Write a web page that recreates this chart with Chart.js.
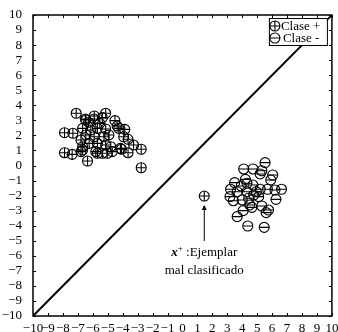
<!DOCTYPE html>
<html>
<head>
<meta charset="utf-8">
<script src="https://cdn.jsdelivr.net/npm/chart.js@4/dist/chart.umd.min.js"></script>
<style>
    body { margin: 0; background: #fff; }
</style>
</head>
<body>
<canvas id="chart" width="338" height="332"></canvas>
<script>
// clase + (el ultimo es el ejemplar mal clasificado)
const posX = [-7.11, -5.14, -5.90, -6.46, -4.52, -4.37, -3.86, -7.89, -3.64, -3.27, -2.76, -4.08, -3.64, -7.89, -7.38, -6.35, -2.76, -5.69, -5.03, -6.68,
    -6.50, -5.91, -6.28, -5.36, -5.53, -6.68, -6.13, -5.69, -5.14, -6.46, -5.91, -5.25, -4.92, -6.79, -6.24, -5.69, -5.14, -6.68, -4.80, -5.80,
    -5.36, -4.70, -7.33, -6.79, -4.26, -3.93, -4.15, 1.46];
const posY = [3.47, 3.47, 3.29, 3.02, 2.98, 2.62, 2.40, 2.18, 1.74, 1.36, 1.08, 1.08, 0.85, 0.85, 0.74, 0.30, -0.15, 0.81, 0.81, 1.03,
    3.09, 3.09, 2.87, 3.18, 2.80, 2.47, 2.36, 2.47, 2.43, 2.03, 1.91, 1.91, 2.03, 1.69, 1.47, 1.47, 1.36, 1.25, 1.25, 0.92,
    0.81, 0.92, 2.14, 0.92, 2.47, 1.91, 1.14, -2.03];

// clase -
const negX = [5.53, 4.10, 4.72, 5.31, 5.20, 6.04, 5.91, 3.49, 4.21, 3.93, 4.72, 3.22, 6.63, 6.19, 5.69, 5.20, 4.32, 3.66, 3.18, 3.40,
    4.00, 4.43, 5.10, 6.26, 4.50, 4.65, 5.31, 5.76, 5.60, 4.06, 3.66, 4.37, 5.47, 4.94, 4.32, 4.77];
const negY = [0.19, -0.23, -0.23, -0.35, -0.56, -0.63, -0.96, -1.14, -0.92, -1.36, -1.30, -1.58, -1.58, -1.63, -1.58, -1.58, -1.74, -1.74, -2.07, -2.34,
    -2.29, -2.18, -2.07, -2.25, -2.62, -2.78, -2.69, -2.96, -3.13, -3.00, -3.40, -4.02, -4.11, -1.74, -1.18, -1.96];

// frontera y = x
const lineX = [-10, 10];
const lineY = [-10, 10];

const tickValues = [-10, -9, -8, -7, -6, -5, -4, -3, -2, -1, 0, 1, 2, 3, 4, 5, 6, 7, 8, 9, 10];

const markerR = 5;
const serif = '"Liberation Serif"';

function toPoints(xs, ys) {
    return xs.map((x, i) => ({ x: x, y: ys[i] }));
}

const fmt = v => String(v).replace('-', '\u2212');

function drawSign(ctx, x, y, minus) {
    ctx.moveTo(x - markerR, y);
    ctx.lineTo(x + markerR, y);
    if (!minus) {
        ctx.moveTo(x, y - markerR);
        ctx.lineTo(x, y + markerR);
    }
}

// lineas dentro de los circulos: + para clase +, - para clase -
const markerPlugin = {
    id: 'markers',
    afterDatasetDraw(chart, args) {
        if (args.index > 1) return;
        const ctx = chart.ctx;
        ctx.save();
        ctx.strokeStyle = '#000';
        ctx.lineWidth = 1.1;
        ctx.beginPath();
        args.meta.data.forEach(p => drawSign(ctx, p.x, p.y, args.index === 1));
        ctx.stroke();
        ctx.restore();
    }
};

const framePlugin = {
    id: 'frame',
    afterDatasetsDraw(chart) {
        const ctx = chart.ctx;
        const a = chart.chartArea;
        const xs = chart.scales.x;
        const ys = chart.scales.y;
        ctx.save();
        ctx.strokeStyle = '#000';
        ctx.fillStyle = '#000';
        ctx.lineWidth = 1;
        ctx.beginPath();
        tickValues.forEach(v => {
            const px = Math.round(xs.getPixelForValue(v)) + 0.5;
            ctx.moveTo(px, a.bottom); ctx.lineTo(px, a.bottom - 3);
            ctx.moveTo(px, a.top); ctx.lineTo(px, a.top + 3);
            const py = Math.round(ys.getPixelForValue(v)) + 0.5;
            ctx.moveTo(a.left, py); ctx.lineTo(a.left + 3, py);
            ctx.moveTo(a.right, py); ctx.lineTo(a.right - 3, py);
        });
        ctx.stroke();
        ctx.lineWidth = 1.5;
        ctx.strokeRect(a.left, a.top, a.right - a.left, a.bottom - a.top);

        // leyenda
        const lx = a.right - 63, ly = a.top + 3;
        ctx.fillStyle = '#fff';
        ctx.fillRect(lx, ly, 58, 27);
        ctx.lineWidth = 1;
        ctx.strokeRect(lx + 0.5, ly + 0.5, 58, 27);
        ctx.fillStyle = '#000';
        ctx.lineWidth = 1.1;
        [[false, 'Clase +'], [true, 'Clase -']].forEach((item, i) => {
            const cy = ly + 8 + i * 12;
            ctx.beginPath();
            ctx.arc(lx + 6, cy, markerR, 0, Math.PI * 2);
            drawSign(ctx, lx + 6, cy, item[0]);
            ctx.stroke();
            ctx.font = '13px ' + serif;
            ctx.textBaseline = 'middle';
            ctx.fillText(item[1], lx + 12 + (item[0] ? 2 : 0), cy + 1);
        });

        // flecha hacia el ejemplar mal clasificado
        const ex = xs.getPixelForValue(posX[posX.length - 1]);
        const top = ys.getPixelForValue(-2.62);
        const bot = ys.getPixelForValue(-5.02);
        ctx.lineWidth = 1;
        ctx.beginPath();
        ctx.moveTo(ex, bot);
        ctx.lineTo(ex, top + 1);
        ctx.stroke();
        ctx.beginPath();
        ctx.moveTo(ex, top);
        ctx.lineTo(ex - 2.5, top + 5);
        ctx.lineTo(ex + 2.5, top + 5);
        ctx.closePath();
        ctx.fill();

        // texto
        const y1 = ys.getPixelForValue(-6.0);
        const y2 = ys.getPixelForValue(-7.2);
        ctx.textBaseline = 'alphabetic';
        ctx.font = 'bold italic 13px ' + serif;
        const wx = ctx.measureText('x').width;
        ctx.font = '9px ' + serif;
        const wp = ctx.measureText('+').width;
        ctx.font = '13px ' + serif;
        const rest = ' :Ejemplar';
        const wr = ctx.measureText(rest).width;
        let cx = ex - (wx + wp + wr) / 2;
        ctx.font = 'bold italic 13px ' + serif;
        ctx.fillText('x', cx, y1);
        cx += wx;
        ctx.font = '9px ' + serif;
        ctx.fillText('+', cx, y1 - 5);
        cx += wp;
        ctx.font = '13px ' + serif;
        ctx.fillText(rest, cx, y1);
        ctx.textAlign = 'center';
        ctx.fillText('mal clasificado', ex, y2);
        ctx.restore();
    }
};

new Chart(document.getElementById('chart'), {
    type: 'scatter',
    data: {
        datasets: [{
            label: 'Clase +',
            data: toPoints(posX, posY),
            pointStyle: 'circle',
            pointRadius: markerR,
            borderColor: '#000',
            borderWidth: 1.1,
            backgroundColor: 'rgba(0,0,0,0)',
            order: 1
        }, {
            label: 'Clase -',
            data: toPoints(negX, negY),
            pointStyle: 'circle',
            pointRadius: markerR,
            borderColor: '#000',
            borderWidth: 1.1,
            backgroundColor: 'rgba(0,0,0,0)',
            order: 1
        }, {
            type: 'line',
            label: 'frontera',
            data: toPoints(lineX, lineY),
            borderColor: '#000',
            borderWidth: 2,
            pointRadius: 0,
            order: 2
        }]
    },
    plugins: [markerPlugin, framePlugin],
    options: {
        responsive: false,
        animation: false,
        layout: { padding: { top: 15, right: 2, left: 0, bottom: 0 } },
        plugins: { legend: { display: false }, tooltip: { enabled: false } },
        scales: {
            x: {
                type: 'linear', min: -10, max: 10,
                afterFit: s => { s.height = 16; },
                afterBuildTicks: s => { s.ticks = tickValues.map(v => ({ value: v })); },
                grid: { display: false },
                border: { display: false },
                ticks: {
                    autoSkip: false, maxRotation: 0, padding: -3,
                    color: '#000', font: { family: 'Liberation Serif', size: 13 },
                    callback: fmt
                }
            },
            y: {
                type: 'linear', min: -10, max: 10,
                afterFit: s => { s.width = 33; },
                afterBuildTicks: s => { s.ticks = tickValues.map(v => ({ value: v })); },
                grid: { display: false },
                border: { display: false },
                ticks: {
                    autoSkip: false, padding: 3,
                    color: '#000', font: { family: 'Liberation Serif', size: 13 },
                    callback: fmt
                }
            }
        }
    }
});
</script>
</body>
</html>
